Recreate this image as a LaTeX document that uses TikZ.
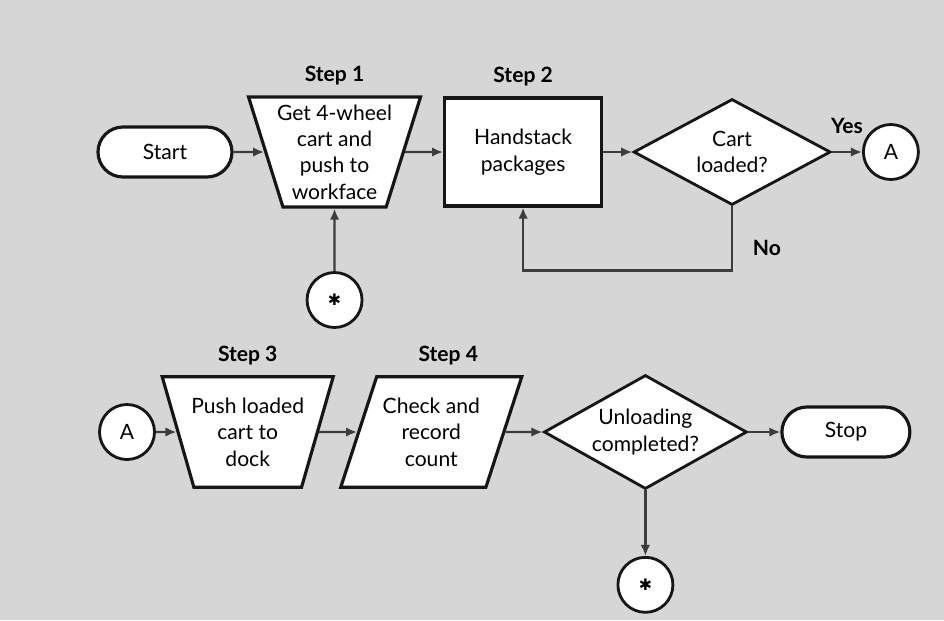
\documentclass[tikz,border=0pt]{standalone}
\usepackage{fontspec}
\setmainfont{Lato}
\newfontfamily\symfont{DejaVu Sans}
\usepackage{tikz}
\usetikzlibrary{
  arrows.meta,
  positioning,
  shapes.geometric
}
\definecolor{PaperGray}{RGB}{214,214,214}
\definecolor{InkBlack}{RGB}{22,22,22}
\definecolor{LineGray}{RGB}{60,60,60}
\tikzset{
  termnode/.style={draw=InkBlack,fill=white,line width=1.8pt,rounded corners=5mm,minimum height=10mm,minimum width=26.8mm,align=center,font=\fontsize{12}{15}\selectfont},
  stepnode/.style={trapezium,shape border rotate=180,trapezium angle=72.6,trapezium stretches body,draw=InkBlack,fill=white,line width=1.8pt,inner xsep=-4mm,inner ysep=4.2mm,minimum height=22mm,minimum width=34.4mm,align=center,font=\fontsize{12}{15}\selectfont},
  checknode/.style={trapezium,trapezium left angle=72,trapezium right angle=108,trapezium stretches body,draw=InkBlack,fill=white,line width=1.8pt,inner xsep=-4mm,inner ysep=4.2mm,minimum height=22mm,minimum width=36.2mm,align=center,font=\fontsize{12}{15}\selectfont},
  boxnode/.style={draw=InkBlack,fill=white,line width=1.8pt,minimum height=21.6mm,minimum width=31.4mm,align=center,font=\fontsize{12}{15}\selectfont},
  decnode/.style={diamond,draw=InkBlack,fill=white,line width=1.6pt,inner sep=-6mm,minimum height=21.2mm,minimum width=39.4mm,align=center,font=\fontsize{12}{15}\selectfont},
  connnode/.style={circle,draw=InkBlack,fill=white,line width=1.6pt,inner sep=0pt,minimum size=11mm,font=\fontsize{12}{15}\selectfont},
  steplabel/.style={inner sep=1pt,font=\bfseries\fontsize{12}{15}\selectfont},
  flowlabel/.style={inner sep=1pt,font=\bfseries\fontsize{12}{15}\selectfont},
  flowarrow/.style={-{Latex[length=2.2mm,width=1.9mm]},line width=1.3pt,draw=LineGray}
}

\begin{document}
\begin{tikzpicture}[node distance=6mm]
\fill[PaperGray] (0,0) rectangle (18.88,-12.4);
\useasboundingbox (0,0) rectangle (18.88,-12.4);

% first row: loading
\node[termnode] (start) at (3.3,-3.04) {Start};
\node[stepnode, right=6.1mm of start, inner ysep=1.5mm] (s1) {Get 4-wheel\\cart and\\push to\\workface};
\node[boxnode, right=7.6mm of s1] (s2) {Handstack\\packages};
\node[decnode, right=5.8mm of s2] (d1) {Cart\\loaded?};
\node[connnode, right=6mm of d1] (a1) {A};
\node[connnode, below=12.5mm of s1] (x1) {\symfont\small ✱};

\node[steplabel, above=1.6mm of s1] (l1) {Step 1};
\node[steplabel, above=1.6mm of s2] (l2) {Step 2};

% second row: unloading
\node[connnode] (a2) at (2.54,-8.64) {A};
\node[stepnode, right=4.1mm of a2, trapezium angle=74, minimum width=34.2mm] (s3) {Push loaded\\cart to\\dock};
\node[checknode, right=7.6mm of s3] (s4) {Check and\\record\\count};
\node[decnode, right=7.4mm of s4, minimum width=40.6mm, minimum height=22.8mm] (d2) {Unloading\\completed?};
\node[termnode, right=6.4mm of d2, minimum width=25.6mm] (stop) {Stop};
\node[connnode, below=13.1mm of d2] (x2) {\symfont\small ✱};

\node[steplabel, above=1.6mm of s3] (l3) {Step 3};
\node[steplabel, above=1.6mm of s4, xshift=3.4mm] (l4) {Step 4};

\foreach \a/\b in {start/s1,s1/s2,s2/d1,x1/s1,a2/s3,s3/s4,s4/d2,d2/stop,d2/x2}{
  \draw[flowarrow] (\a) -- (\b);
}
\draw[flowarrow] (d1) -- node[flowlabel, above=3mm] (yes) {Yes} (a1);
\draw[flowarrow] (d1.south) -- node[flowlabel, right=3.6mm, pos=0.65] (no) {No} ++(0,-12.8mm) -| (s2.south);
\end{tikzpicture}
\end{document}
